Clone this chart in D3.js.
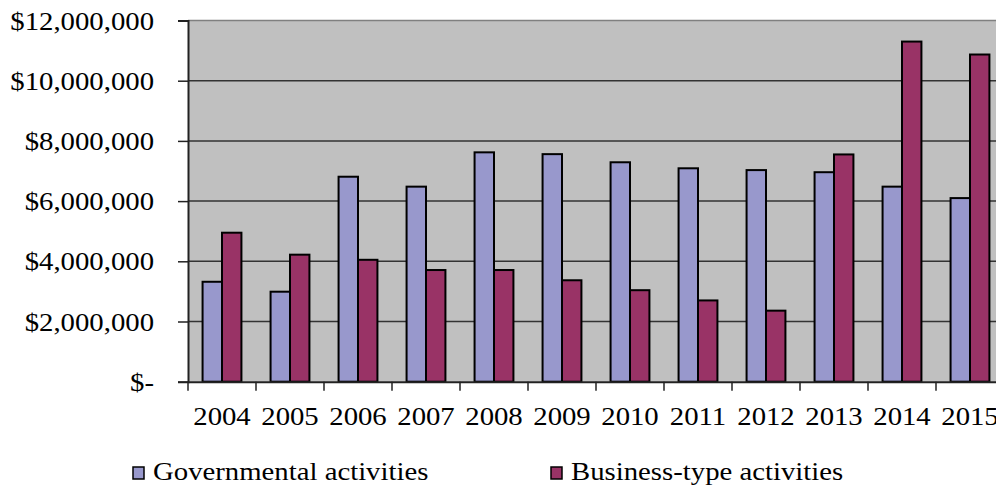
<!DOCTYPE html>
<html>
<head>
<meta charset="utf-8">
<script src="https://cdn.jsdelivr.net/npm/d3@7"></script>
<style>
  html, body { margin: 0; padding: 0; background: #fff; }
  svg { display: block; }
  text { font-family: "Liberation Serif", "Times New Roman", serif; fill: #000; }
</style>
</head>
<body>
<svg id="chart" width="996" height="491"></svg>
<script>
// Net position by activity type, 2004–2015
const years = ["2004","2005","2006","2007","2008","2009","2010","2011","2012","2013","2014","2015"];
const governmental = [3320000, 2990000, 6810000, 6480000, 7620000, 7560000, 7290000, 7090000, 7030000, 6960000, 6480000, 6100000];
const businessType = [4950000, 4220000, 4050000, 3710000, 3710000, 3370000, 3040000, 2700000, 2360000, 7550000, 11300000, 10870000];
const seriesNames = ["Governmental activities", "Business-type activities"];
const yTicks = [0, 2000000, 4000000, 6000000, 8000000, 10000000, 12000000];

const colors = ["#9898cc", "#993366"];
const stretch = 1.15; // horizontal text scale

const svg = d3.select("#chart");
const plot = { left: 188, top: 20.5, bottom: 381.7, right: 1004 };

const x = d3.scaleBand().domain(years).range([plot.left, plot.right]).paddingInner(0).paddingOuter(0);
const inner = d3.scaleBand().domain([0, 1]).range([0, x.bandwidth()]).paddingOuter(0.75).paddingInner(0);
const y = d3.scaleLinear().domain([0, 12000000]).range([plot.bottom, plot.top]);

const fmt = v => v === 0 ? "$-" : "$" + d3.format(",")(v);

// plot background
svg.append("rect")
  .attr("x", plot.left).attr("y", plot.top)
  .attr("width", plot.right - plot.left).attr("height", plot.bottom - plot.top)
  .attr("fill", "#c0c0c0");

// gridlines
svg.append("g").selectAll("line").data(yTicks.filter(d => d > 0)).join("line")
  .attr("x1", plot.left).attr("x2", plot.right)
  .attr("y1", d => y(d)).attr("y2", d => y(d))
  .attr("stroke", d => d === 12000000 ? "#808080" : "#333")
  .attr("stroke-width", 1.5);

// bars
const groups = svg.append("g").selectAll("g").data(years).join("g")
  .attr("transform", d => `translate(${x(d)},0)`);
groups.selectAll("rect")
  .data((d, i) => [governmental[i], businessType[i]])
  .join("rect")
  .attr("x", (d, j) => inner(j))
  .attr("width", inner.bandwidth())
  .attr("y", d => y(d))
  .attr("height", d => y(0) - y(d))
  .attr("fill", (d, j) => colors[j])
  .attr("stroke", "#000")
  .attr("stroke-width", 2);

// y axis
const yAxis = svg.append("g").attr("transform", `translate(${plot.left},0)`)
  .call(d3.axisLeft(y).tickValues(yTicks).tickSize(10).tickFormat(fmt));
yAxis.select(".domain").attr("stroke", "#222").attr("stroke-width", 2);
yAxis.selectAll(".tick line").attr("stroke", "#222").attr("stroke-width", 1.5);
yAxis.selectAll(".tick text")
  .attr("x", null).attr("dy", null)
  .attr("font-size", 25)
  .attr("text-anchor", "end")
  .attr("transform", `translate(-34,8.5) scale(${stretch},1)`);

// x axis
const xAxis = svg.append("g").attr("transform", `translate(0,${plot.bottom})`)
  .call(d3.axisBottom(x).tickSize(0).tickSizeOuter(0));
xAxis.select(".domain").attr("stroke", "#222").attr("stroke-width", 2);
xAxis.selectAll(".tick text")
  .attr("y", null).attr("dy", null)
  .attr("font-size", 25)
  .attr("text-anchor", "middle")
  .attr("transform", `translate(0,43) scale(${stretch},1)`);
// category separators below the axis
xAxis.append("g").selectAll("line").data(years).join("line")
  .attr("x1", d => x(d)).attr("x2", d => x(d))
  .attr("y1", 0).attr("y2", 9)
  .attr("stroke", "#222").attr("stroke-width", 1.5);

// legend
const legendX = [133, 551];
const legend = svg.append("g").selectAll("g").data(seriesNames).join("g")
  .attr("transform", (d, i) => `translate(${legendX[i]},467)`);
legend.append("rect")
  .attr("width", 11).attr("height", 12)
  .attr("fill", (d, i) => colors[i])
  .attr("stroke", "#000").attr("stroke-width", 1.5);
legend.append("text")
  .attr("font-size", 25)
  .attr("transform", `translate(20,13) scale(${stretch},1)`)
  .text(d => d);
</script>
</body>
</html>
